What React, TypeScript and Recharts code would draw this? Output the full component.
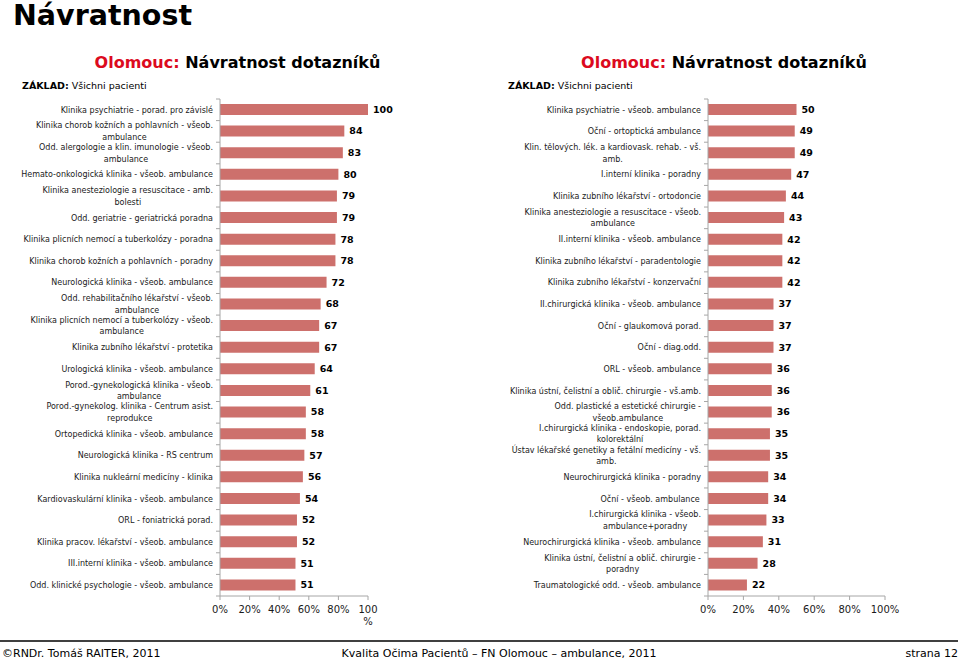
import React from 'react';
import { BarChart, Bar, XAxis, YAxis, LabelList } from 'recharts';

const leftCategories = [
  'Klinika psychiatrie - porad. pro závislé',
  'Klinika chorob kožních a pohlavních - všeob.\nambulance',
  'Odd. alergologie a klin. imunologie - všeob.\nambulance',
  'Hemato-onkologická klinika - všeob. ambulance',
  'Klinika anesteziologie a resuscitace - amb.\nbolesti',
  'Odd. geriatrie - geriatrická poradna',
  'Klinika plicních nemocí a tuberkolózy - poradna',
  'Klinika chorob kožních a pohlavních - poradny',
  'Neurologická klinika - všeob. ambulance',
  'Odd. rehabilitačního lékařství - všeob.\nambulance',
  'Klinika plicních nemocí a tuberkolózy - všeob.\nambulance',
  'Klinika zubního lékařství - protetika',
  'Urologická klinika - všeob. ambulance',
  'Porod.-gynekologická klinika - všeob.\nambulance',
  'Porod.-gynekolog. klinika - Centrum asist.\nreprodukce',
  'Ortopedická klinika - všeob. ambulance',
  'Neurologická klinika - RS centrum',
  'Klinika nukleární medicíny - klinika',
  'Kardiovaskulární klinika - všeob. ambulance',
  'ORL - foniatrická porad.',
  'Klinika pracov. lékařství - všeob. ambulance',
  'III.interní klinika - všeob. ambulance',
  'Odd. klinické psychologie - všeob. ambulance',
];
const leftValues = [100, 84, 83, 80, 79, 79, 78, 78, 72, 68, 67, 67, 64, 61, 58, 58, 57, 56, 54, 52, 52, 51, 51];

const rightCategories = [
  'Klinika psychiatrie - všeob. ambulance',
  'Oční - ortoptická ambulance',
  'Klin. tělových. lék. a kardiovask. rehab. - vš.\namb.',
  'I.interní klinika - poradny',
  'Klinika zubního lékařství - ortodoncie',
  'Klinika anesteziologie a resuscitace - všeob.\nambulance',
  'II.interní klinika - všeob. ambulance',
  'Klinika zubního lékařství - paradentologie',
  'Klinika zubního lékařství - konzervační',
  'II.chirurgická klinika - všeob. ambulance',
  'Oční - glaukomová porad.',
  'Oční - diag.odd.',
  'ORL - všeob. ambulance',
  'Klinika ústní, čelistní a oblič. chirurgie - vš.amb.',
  'Odd. plastické a estetické chirurgie -\nvšeob.ambulance',
  'I.chirurgická klinika - endoskopie, porad.\nkolorektální',
  'Ústav lékařské genetiky a fetální medicíny - vš.\namb.',
  'Neurochirurgická klinika - poradny',
  'Oční  - všeob. ambulance',
  'I.chirurgická klinika - všeob.\nambulance+poradny',
  'Neurochirurgická klinika - všeob. ambulance',
  'Klinika ústní, čelistní a oblič. chirurgie -\nporadny',
  'Traumatologické odd. - všeob. ambulance',
];
const rightValues = [50, 49, 49, 47, 44, 43, 42, 42, 42, 37, 37, 37, 36, 36, 36, 35, 35, 34, 34, 33, 31, 28, 22];

const xTicks = [0, 20, 40, 60, 80, 100];

const FONT = "'DejaVu Sans', Verdana, sans-serif";
const BAR = '#CD706C';
const AXIS = '#A6A6A6';
const RED = '#DC0A1E';

const leftData = leftCategories.map((name, i) => ({ name, value: leftValues[i] }));
const rightData = rightCategories.map((name, i) => ({ name, value: rightValues[i] }));

let ctx: CanvasRenderingContext2D | null = null;
function measure(text: string, font: string): number {
  if (!ctx) {
    const c = document.createElement('canvas');
    ctx = c.getContext('2d');
  }
  if (!ctx) return text.length * 4.5;
  ctx.font = font;
  return ctx.measureText(text).width;
}

const PLOT_TOP = 99;
const PLOT_BOTTOM = 596;
const BAND = (PLOT_BOTTOM - PLOT_TOP) / 23;
const LABEL_SIZE = 8;

function makeYTick(axisX: number, lastIndex: number) {
  return (props: any) => {
    const { y, payload, index } = props;
    const lines = String(payload.value).split('\n');
    const font = `${LABEL_SIZE}px ${FONT}`;
    const maxW = Math.max(...lines.map((l) => measure(l, font)));
    const right = axisX - 7;
    const cx = right - maxW / 2;
    const lh = 11.5;
    const y0 = y - ((lines.length - 1) * lh) / 2;
    return (
      <g>
        <line x1={axisX - 4} x2={axisX} y1={y - BAND / 2} y2={y - BAND / 2} stroke={AXIS} />
        {index === lastIndex && (
          <line x1={axisX - 4} x2={axisX} y1={y + BAND / 2} y2={y + BAND / 2} stroke={AXIS} />
        )}
        <text textAnchor="middle" fontSize={LABEL_SIZE} fontFamily={FONT} fill="#1a1a1a">
          {lines.map((l, i) => (
            <tspan key={i} x={cx} y={y0 + i * lh} dy="0.35em">
              {l}
            </tspan>
          ))}
        </text>
      </g>
    );
  };
}

function makeXTick(wrapHundred: boolean) {
  return (props: any) => {
    const { x, y, payload } = props;
    const label = `${payload.value}%`;
    const base = y + 11;
    if (wrapHundred && payload.value === 100) {
      return (
        <text textAnchor="middle" fontSize={10} fontFamily={FONT} fill="#1a1a1a">
          <tspan x={x} y={base}>100</tspan>
          <tspan x={x} y={base + 12}>%</tspan>
        </text>
      );
    }
    return (
      <text x={x} y={base} textAnchor="middle" fontSize={10} fontFamily={FONT} fill="#1a1a1a">
        {label}
      </text>
    );
  };
}

function Panel({ data, yWidth, rightMargin, wrapHundred }: any) {
  return (
    <BarChart
      width={480}
      height={661}
      layout="vertical"
      data={data}
      margin={{ top: PLOT_TOP, right: rightMargin, bottom: 661 - PLOT_BOTTOM - 30, left: 0 }}
      barCategoryGap={0}
    >
      <XAxis
        type="number"
        domain={[0, 100]}
        ticks={xTicks}
        interval={0}
        height={30}
        axisLine={{ stroke: AXIS }}
        tickLine={{ stroke: AXIS }}
        tickSize={4}
        tickMargin={2}
        tick={makeXTick(wrapHundred)}
      />
      <YAxis
        type="category"
        dataKey="name"
        width={yWidth}
        interval={0}
        axisLine={{ stroke: AXIS }}
        tickLine={false}
        tick={makeYTick(yWidth, data.length - 1)}
      />
      <Bar dataKey="value" fill={BAR} barSize={11} isAnimationActive={false}>
        <LabelList
          dataKey="value"
          position="right"
          offset={5}
          fill="#000"
          fontSize={9.5}
          fontWeight="bold"
          fontFamily={FONT}
        />
      </Bar>
    </BarChart>
  );
}

export default function App() {
  return (
    <div
      style={{
        position: 'absolute',
        left: 0,
        top: 0,
        width: 960,
        height: 661,
        background: '#fff',
        overflow: 'hidden',
      }}
    >
      <div style={{ position: 'absolute', left: 0, top: 0 }}>
        <Panel data={leftData} yWidth={220} rightMargin={112} wrapHundred={true} />
      </div>
      <div style={{ position: 'absolute', left: 480, top: 0 }}>
        <Panel data={rightData} yWidth={228} rightMargin={75} wrapHundred={false} />
      </div>
      <svg
        width={960}
        height={661}
        style={{ position: 'absolute', left: 0, top: 0, pointerEvents: 'none' }}
        fontFamily={FONT}
      >
        <text x={13} y={25} fontSize={28.5} fontWeight="bold" fill="#000">
          Návratnost
        </text>
        <text x={237.5} y={68} textAnchor="middle" fontSize={16} fontWeight="bold" fill="#000">
          <tspan fill={RED}>Olomouc:</tspan> Návratnost dotazníků
        </text>
        <text x={724} y={68} textAnchor="middle" fontSize={16} fontWeight="bold" fill="#000">
          <tspan fill={RED}>Olomouc:</tspan> Návratnost dotazníků
        </text>
        <text x={22} y={88.5} fontSize={9.5} fill="#000">
          <tspan fontWeight="bold">ZÁKLAD:</tspan> Všichni pacienti
        </text>
        <text x={508} y={88.5} fontSize={9.5} fill="#000">
          <tspan fontWeight="bold">ZÁKLAD:</tspan> Všichni pacienti
        </text>
        <line x1={0} x2={958} y1={641} y2={641} stroke="#404040" strokeWidth={2} />
        <text x={2} y={657} fontSize={11} fill="#000">
          ©RNDr. Tomáš RAITER, 2011
        </text>
        <text x={499} y={657} textAnchor="middle" fontSize={11} fill="#000">
          Kvalita Očima Pacientů – FN Olomouc – ambulance, 2011
        </text>
        <text x={958} y={657} textAnchor="end" fontSize={11} fill="#000">
          strana 12
        </text>
      </svg>
    </div>
  );
}
